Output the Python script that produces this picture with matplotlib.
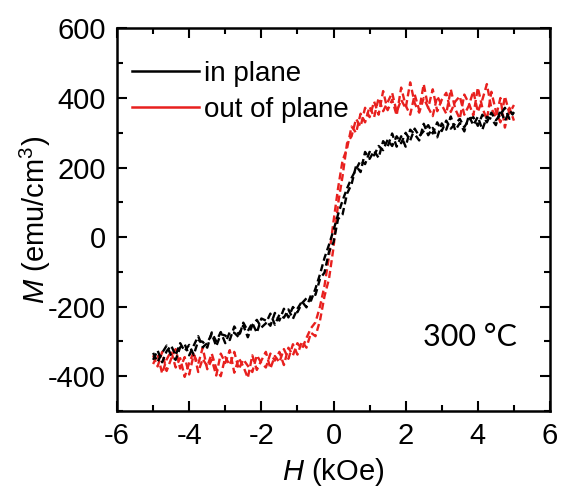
import matplotlib
matplotlib.use("Agg")
import matplotlib.pyplot as plt
from matplotlib.lines import Line2D
from matplotlib.ticker import MultipleLocator

plt.rcParams["font.family"] = ["Liberation Sans", "DejaVu Sans"]
plt.rcParams["mathtext.fontset"] = "custom"
plt.rcParams["mathtext.rm"] = "Liberation Sans"
plt.rcParams["mathtext.it"] = "Liberation Sans:italic"
plt.rcParams["axes.unicode_minus"] = False

# field sweep (kOe), shared by both branches
H = [-5.0, -4.875, -4.75, -4.625, -4.5, -4.375, -4.25, -4.125, -4.0,
     -3.875, -3.75, -3.625, -3.5, -3.375, -3.25, -3.125, -3.0,
     -2.875, -2.75, -2.625, -2.5, -2.375, -2.25, -2.125, -2.0,
     -1.875, -1.75, -1.625, -1.5, -1.375, -1.25, -1.125, -1.0,
     -0.875, -0.75, -0.625, -0.5, -0.375, -0.25, -0.125, 0.0,
     0.125, 0.25, 0.375, 0.5, 0.625, 0.75, 0.875, 1.0,
     1.125, 1.25, 1.375, 1.5, 1.625, 1.75, 1.875, 2.0,
     2.125, 2.25, 2.375, 2.5, 2.625, 2.75, 2.875, 3.0,
     3.125, 3.25, 3.375, 3.5, 3.625, 3.75, 3.875, 4.0,
     4.125, 4.25, 4.375, 4.5, 4.625, 4.75, 4.875, 5.0]

# in plane, M (emu/cm3)
inplane_up = [-333, -359, -333, -312, -340, -353, -317, -308, -340,
              -312, -285, -317, -305, -278, -314, -279, -283,
              -296, -257, -280, -254, -288, -253, -238, -260,
              -248, -220, -252, -223, -232, -208, -235, -206,
              -185, -202, -167, -166, -120, -102, -42, -15,
              52, 65, 125, 152, 205, 187, 245, 225,
              248, 228, 276, 260, 298, 260, 290, 260,
              309, 296, 278, 326, 293, 314, 287, 327,
              309, 347, 307, 328, 304, 349, 322, 346,
              309, 346, 340, 322, 366, 334, 362, 353]
inplane_down = [-353, -326, -360, -328, -312, -340, -305, -328, -310,
                -339, -298, -301, -318, -274, -300, -273, -305,
                -273, -275, -288, -246, -270, -247, -275, -234,
                -240, -255, -218, -240, -206, -231, -201, -216,
                -190, -176, -183, -148, -107, -60, -22, 20,
                65, 105, 140, 170, 195, 220, 210, 245,
                235, 262, 250, 280, 262, 290, 270, 300,
                278, 312, 290, 305, 322, 298, 330, 305,
                335, 312, 326, 340, 316, 338, 345, 320,
                352, 330, 358, 336, 352, 372, 340, 360]

# out of plane, M (emu/cm3)
outplane_up = [-340, -372, -330, -385, -350, -322, -378, -345, -395,
               -338, -365, -318, -380, -352, -398, -335, -362,
               -325, -390, -348, -372, -405, -340, -382, -355,
               -330, -378, -342, -360, -322, -350, -308, -338,
               -300, -318, -275, -285, -240, -170, -120, -30,
               95, 175, 270, 290, 340, 318, 372, 345,
               390, 352, 420, 365, 395, 350, 430, 378,
               352, 410, 365, 440, 372, 348, 405, 380,
               355, 425, 368, 340, 410, 385, 350, 430,
               372, 338, 418, 362, 330, 405, 355, 380]
outplane_down = [-365, -338, -392, -352, -328, -375, -348, -402, -362,
                 -330, -388, -350, -372, -335, -378, -400, -345,
                 -368, -330, -380, -352, -370, -388, -340, -362,
                 -375, -335, -355, -330, -368, -318, -340, -305,
                 -322, -290, -262, -245, -200, -140, -55, 45,
                 140, 220, 255, 318, 300, 355, 330, 375,
                 345, 400, 362, 388, 415, 360, 395, 370,
                 445, 385, 358, 400, 372, 425, 362, 395,
                 415, 360, 390, 405, 352, 378, 420, 360,
                 395, 440, 370, 345, 400, 315, 372, 335]

labels = ["in plane", "out of plane"]
colors = ["black", "#e8201e"]

fig = plt.figure(figsize=(5.61, 4.91), dpi=100)
ax = fig.add_axes([0.2086, 0.163, 0.7718, 0.779])

# measured branches drawn with short broken strokes
dash = (0, (3, 1.6))
ax.plot(H, outplane_up, color=colors[1], lw=1.7, ls=dash)
ax.plot(H, outplane_down, color=colors[1], lw=1.7, ls=dash)
ax.plot(H, inplane_up, color=colors[0], lw=1.7, ls=dash)
ax.plot(H, inplane_down, color=colors[0], lw=1.7, ls=dash)

ax.set_xlim(-6, 6)
ax.set_ylim(-500, 600)
ax.xaxis.set_major_locator(MultipleLocator(2))
ax.xaxis.set_minor_locator(MultipleLocator(1))
ax.yaxis.set_major_locator(MultipleLocator(200))
ax.yaxis.set_minor_locator(MultipleLocator(100))
ax.tick_params(which="both", direction="in", top=True, right=True,
               labelsize=21, width=1.5, pad=8)
ax.tick_params(which="major", length=7)
ax.tick_params(which="minor", length=4)
for s in ax.spines.values():
    s.set_linewidth(1.8)

ax.set_xlabel("$H$ (kOe)", fontsize=21, labelpad=4)
ax.set_ylabel("$M$ (emu/cm$^3$)", fontsize=21, labelpad=-4)

handles = [Line2D([], [], color=c, lw=1.8) for c in colors]
ax.legend(handles, labels, loc="upper left", bbox_to_anchor=(0.035, 0.915),
          frameon=False, fontsize=20, handlelength=2.4, handletextpad=0.2,
          labelspacing=0.36, borderpad=0, borderaxespad=0)

ax.text(0.815, 0.194, "300 \u00b0C", transform=ax.transAxes, fontsize=22,
        family=["Lato", "DejaVu Sans"], ha="center", va="center")

fig.savefig("out.png", dpi=100)
